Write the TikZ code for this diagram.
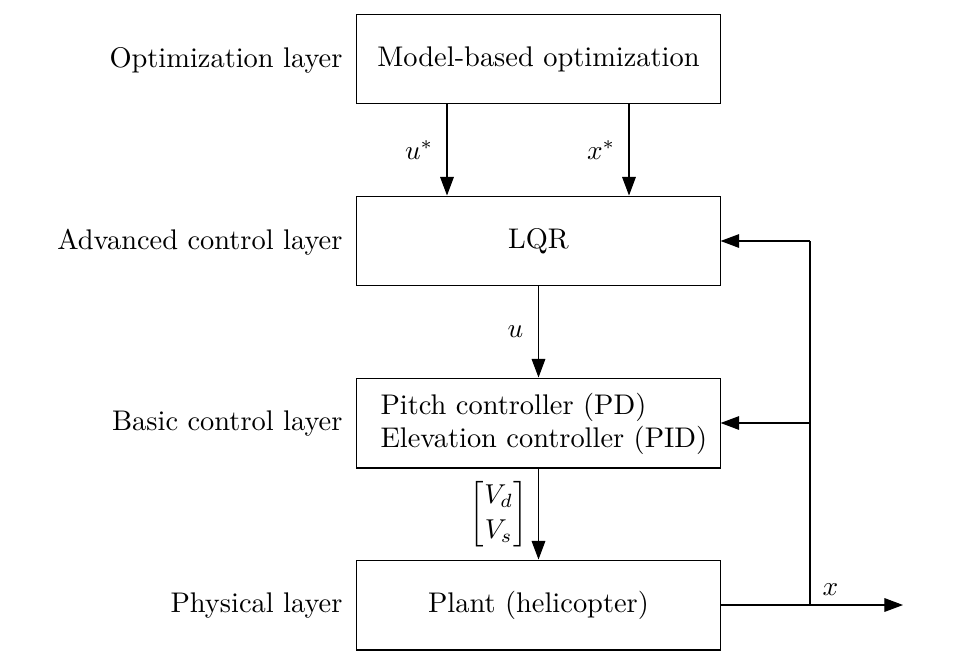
\documentclass[tikz,border=0pt]{standalone}
\usepackage{amsmath}
\usetikzlibrary{arrows.meta}
\begin{document}
\begin{tikzpicture}[x=0.366pt,y=-0.366pt,
  every node/.style={font=\fontsize{10.4}{12.6}\selectfont},
  block/.style={draw,line width=0.4pt,minimum width=132.9pt,minimum height=32.9pt,inner sep=0pt},
  layer/.style={anchor=east,inner sep=0pt},
  sig/.style={line width=0.4pt,-{Triangle[length=6.8pt,width=5pt]}},
  wire/.style={line width=0.4pt}]
\useasboundingbox (0,0) rectangle (961,652);

% blocks of the control hierarchy
\node[block] (opt) at (538.5,59) {Model-based optimization};
\node[block] (lqr) at (538.5,241) {LQR};
\node[block] (basic) at (538.5,423) {};
\node[anchor=west,inner sep=0pt,align=left] (basictxt) at (380,424)
  {Pitch controller (PD)\\[-0.5pt]Elevation controller (PID)};
\node[block] (plant) at (538.5,605) {Plant (helicopter)};

% layer names
\node[layer] (l1) at (343,60) {Optimization layer};
\node[layer] (l2) at (343,242) {Advanced control layer};
\node[layer] (l3) at (343,424) {Basic control layer};
\node[layer] (l4) at (343,606) {Physical layer};

% references from the optimizer
\coordinate (us) at (447,104);
\coordinate (xs) at (629,104);
\draw[sig] (us) -- (us |- lqr.north) node[pos=0.5,left=1.5pt] {$u^*$};
\draw[sig] (xs) -- (xs |- lqr.north) node[pos=0.5,left=1.5pt] {$x^*$};

% control signals
\draw[sig] (lqr.south) -- (basic.north) node[pos=0.5,left=2pt] {$u$};
\draw[sig] (basic.south) -- (plant.north)
  node[pos=0.5,left=0.5pt] {$\begin{bmatrix}V_d\\V_s\end{bmatrix}$};

% state output and feedback
\coordinate (split) at (810,605);
\coordinate (out) at (903,605);
\coordinate (fbtop) at (810,241);
\coordinate (fbmid) at (810,423);
\draw[sig] (plant.east) -- (out);
\node[anchor=south west,inner sep=0pt] (xlbl) at (822,596) {$x$};
\draw[wire] (split) -- (fbtop);
\draw[sig] (fbtop) -- (lqr.east);
\draw[sig] (fbmid) -- (basic.east);
\end{tikzpicture}
\end{document}
